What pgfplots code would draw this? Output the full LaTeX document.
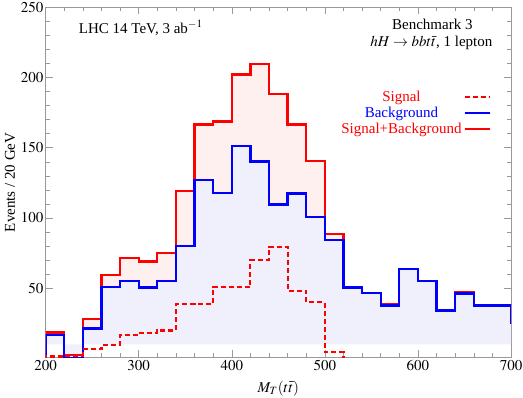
\documentclass[border=0pt]{standalone}
\usepackage{mathptmx}
\usepackage[no-math]{fontspec}
\setmainfont{Liberation Serif}
\usepackage{pgfplots}
\usepackage{pgfplotstable}
\pgfplotsset{compat=1.18}
\usepgfplotslibrary{fillbetween}
\usetikzlibrary{calc}
\definecolor{SBfill}{HTML}{FFF0F0}
\definecolor{Bfill}{HTML}{F0F0FC}
\definecolor{Frame}{HTML}{999999}

% bin left edges, 20 GeV bins
\pgfplotstableread{
x   B     SB
190 0     0
200 16.8  18.5
220 0     2.6
240 21.3  28.0
260 50.7  59.6
280 55.2  71.3
300 50.4  69.1
320 55.2  75.3
340 80.0  119.3
360 126.9 166.6
380 117.9 168.7
400 151.2 202.1
420 140.3 209.5
440 109.6 188.4
460 117.4 166.6
480 100.9 140.4
500 84.3  88.5
520 50.4  50.4
540 46.4  46.4
560 37.7  39.0
580 63.5  63.5
600 55.2  55.2
620 34.1  34.1
640 46.2  47.0
660 37.7  37.7
680 37.7  37.7
700 25.0  25.0
720 25.0  25.0
}\hist

\pgfplotstableread{
x   S
190 0
200 1.4
220 2.0
240 6.7
260 9.3
280 16.8
300 18.2
320 19.9
340 38.8
360 38.8
380 50.9
400 50.9
420 70.0
440 79.5
460 48.3
480 40.0
500 4.5
520 0
}\sig

\begin{document}
\begin{tikzpicture}[font=\fontsize{15bp}{18bp}\selectfont]
\begin{axis}[
  scale only axis, width=465.4bp, height=350bp,
  xmin=200, xmax=700, ymin=0.8, ymax=250,
  xtick={200,300,...,700}, ytick={50,100,...,250},
  minor x tick num=4, minor y tick num=4,
  tick align=inside, tick pos=both,
  xticklabel pos=left, yticklabel pos=left,
  major tick length=7bp, minor tick length=4bp,
  axis line style={draw=Frame, line width=0.6bp},
  every tick/.style={draw=Frame, line width=0.5bp},
  xticklabel style={inner sep=1bp, yshift=-2bp},
  yticklabel style={inner sep=1bp, xshift=-1bp},
  legend cell align=center, legend plot pos=right,
  legend style={draw=none, fill=none, at={(rel axis cs:0.957,0.768)}, anchor=north east,
    row sep=0.3bp, inner sep=0pt},
  legend image code/.code={\draw[#1] (0bp,0bp) -- (25bp,0bp);},
]
\addplot[draw=none, name path=base, forget plot] coordinates {(190,10) (720,10)};
\addplot[const plot, draw=none, name path=bk, forget plot] table[x=x, y=B] {\hist};
\addplot[const plot, draw=none, name path=sb, forget plot] table[x=x, y=SB] {\hist};
\addplot[Bfill, forget plot] fill between[of=bk and base];
\addplot[SBfill, forget plot] fill between[of=sb and bk];

\addplot[const plot, red, line width=2.3bp, forget plot] table[x=x, y=SB] {\hist};
\addplot[const plot, blue, line width=2.3bp, forget plot] table[x=x, y=B] {\hist};
\addplot[const plot, red, line width=2.1bp, dash pattern=on 5bp off 3bp, forget plot] table[x=x, y=S] {\sig};

\addlegendimage{red, line width=2.1bp, dash pattern=on 5bp off 3bp}
\addlegendentry{\textcolor{red}{Signal}}
\addlegendimage{blue, line width=2.3bp}
\addlegendentry{\textcolor{blue}{Background}}
\addlegendimage{red, line width=2.3bp}
\addlegendentry{\textcolor{red}{Signal+Background}}

\node[anchor=west] at (rel axis cs:0.064,0.941) {LHC 14 TeV, 3 ab$^{-1}$};
\node[anchor=center] at (rel axis cs:0.831,0.951) {Benchmark 3};
\node[anchor=center] at (rel axis cs:0.829,0.898) {$hH\rightarrow bbt\bar{t}$, 1 lepton};

\coordinate (sw) at (rel axis cs:0,0);
\coordinate (ne) at (rel axis cs:1,1);
\end{axis}
\node[rotate=90, anchor=center] at ($(sw)!0.5!(sw|-ne)+(-35.6bp,0)$) {Events / 20 GeV};
\node[anchor=center] at ($(sw)!0.5!(ne|-sw)+(0,-31bp)$) {$M_T(t\bar{t})$};
\pgfresetboundingbox
\path[use as bounding box] ($(sw)+(-45.6bp,-39.7bp)$) rectangle ($(ne)+(12bp,7.3bp)$);
\end{tikzpicture}
\end{document}
